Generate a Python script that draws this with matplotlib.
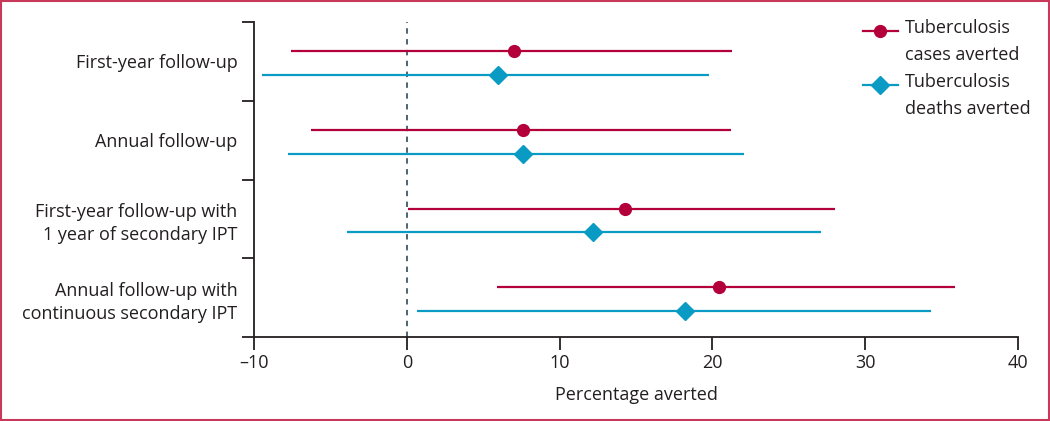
import matplotlib.pyplot as plt
from matplotlib.lines import Line2D
from matplotlib.patches import Rectangle
import numpy as np

plt.rcParams['font.family'] = ['Open Sans', 'DejaVu Sans']

#------------------------------------------------------------------------------
# data (percentage averted, point estimate and range), top group first

groups = [
  "First-year follow-up",
  "Annual follow-up",
  "First-year follow-up with\n1 year of secondary IPT",
  "Annual follow-up with\ncontinuous secondary IPT",
]

cases_mid = [7.0, 7.6, 14.3, 20.4]
cases_lo  = [-7.6, -6.3, 0.1, 5.9]
cases_hi  = [21.3, 21.2, 28.0, 35.9]

deaths_mid = [6.0, 7.6, 12.2, 18.2]
deaths_lo  = [-9.5, -7.8, -3.9, 0.7]
deaths_hi  = [19.8, 22.1, 27.1, 34.3]

xticks = [-10, 0, 10, 20, 30, 40]
xticklabels = ["\u201310", "0", "10", "20", "30", "40"]

legend_labels = ["Tuberculosis\ncases averted", "Tuberculosis\ndeaths averted"]

red = "#B4003A"
blue = "#0A9BC4"
ink = "#231F20"
fs = 13

#------------------------------------------------------------------------------

W, H = 1050, 421
fig = plt.figure(figsize=(W/100, H/100), dpi=100)
ax = fig.add_axes([254/W, 84/H, 764/W, 315/H])

n = len(groups)
centers = n - 0.5 - np.arange(n)

y_c = centers + 0.13
y_d = centers - 0.17

ax.axvline(0, color="#3E5968", linestyle=(0, (3, 3)), linewidth=1.3, zorder=1)

ax.hlines(y_c, cases_lo, cases_hi, color=red, linewidth=1.6, zorder=2)
ax.plot(cases_mid, y_c, "o", color=red, markersize=8.5, linestyle="none", zorder=3)
ax.hlines(y_d, deaths_lo, deaths_hi, color=blue, linewidth=1.6, zorder=2)
ax.plot(deaths_mid, y_d, "D", color=blue, markersize=9.5, linestyle="none", zorder=3)

ax.set_xlim(-10, 40)
ax.set_ylim(0, n)

ax.set_xticks(xticks)
ax.set_xticklabels(xticklabels)
ax.set_yticks(np.arange(n + 1))
ax.set_yticklabels([])
ax.set_yticks(centers, minor=True)
ax.set_yticklabels(groups, minor=True, fontsize=fs, color=ink, ha="right",
                   multialignment="right", linespacing=1.4)

ax.tick_params(axis="y", which="major", direction="out", length=9, width=1.3, color=ink)
ax.tick_params(axis="y", which="minor", length=0, pad=12)
ax.tick_params(axis="x", direction="out", length=9, width=1.3, color=ink,
               labelsize=fs, labelcolor=ink, pad=3)

for s in ["top", "right"]:
  ax.spines[s].set_visible(False)
for s in ["left", "bottom"]:
  ax.spines[s].set_linewidth(1.3)
  ax.spines[s].set_color(ink)

ax.set_xlabel("Percentage averted", fontsize=fs, color=ink, labelpad=10)

# legend, handle level with the first line of each entry
leg_styles = [(red, "o", 8.5), (blue, "D", 9.5)]
for i, (label, (c, m, ms)) in enumerate(zip(legend_labels, leg_styles)):
  y = 1 - (31 + 54*i)/H
  fig.add_artist(Line2D([863/W, 898/W], [y, y], transform=fig.transFigure,
                        color=c, linewidth=1.6))
  fig.add_artist(Line2D([880/W], [y], transform=fig.transFigure, color=c,
                        marker=m, markersize=ms, linestyle="none"))
  fig.text(905/W, y + 12/H, label, fontsize=fs, color=ink, va="top", ha="left",
           linespacing=1.65)

# border round the figure
fig.patches.append(Rectangle((0.001, 0.002), 0.998, 0.996, transform=fig.transFigure,
                             fill=False, edgecolor="#C8385A", linewidth=1.5))

fig.savefig("out.png", dpi=100)
